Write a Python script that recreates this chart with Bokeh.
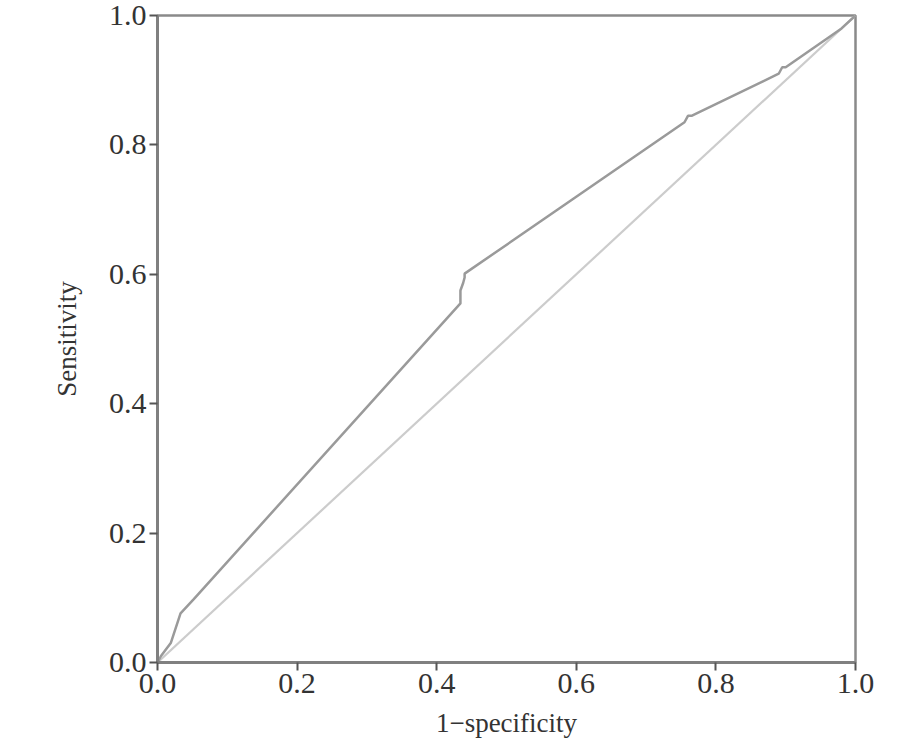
from bokeh.plotting import figure
from bokeh.models import Range1d, FixedTicker, NumeralTickFormatter
from bokeh.embed import file_html
from bokeh.resources import INLINE

# ROC curve points (1-specificity, sensitivity)
fpr = [0.0, 0.005, 0.019, 0.033, 0.052, 0.434, 0.434, 0.438, 0.440, 0.440,
       0.755, 0.760, 0.765, 0.890, 0.895, 0.900, 0.980, 1.0]
tpr = [0.0, 0.010, 0.030, 0.076, 0.098, 0.555, 0.575, 0.587, 0.595, 0.601,
       0.835, 0.845, 0.845, 0.910, 0.920, 0.920, 0.980, 1.0]
ref_x = [0.0, 1.0]
ref_y = [0.0, 1.0]
ticks = [0.0, 0.2, 0.4, 0.6, 0.8, 1.0]

FONT = "'Liberation Serif', 'Times New Roman', Times, serif"

p = figure(width=905, height=737, output_backend="svg", toolbar_location=None,
           x_range=Range1d(0, 1), y_range=Range1d(0, 1),
           min_border_left=157, min_border_top=15, min_border_right=40,
           min_border_bottom=75)
p.frame_width = 698
p.frame_height = 647

p.line(ref_x, ref_y, line_color="#cccccc", line_width=2.2)
p.line(fpr, tpr, line_color="#9a9a9a", line_width=2.5)

p.grid.visible = False
p.outline_line_color = "#8a8a8a"
p.outline_line_width = 2.5
p.background_fill_color = "white"
p.border_fill_color = "white"

for ax in (p.xaxis[0], p.yaxis[0]):
    ax.ticker = FixedTicker(ticks=ticks)
    ax.formatter = NumeralTickFormatter(format="0.0")
    ax.axis_line_color = "#808080"
    ax.axis_line_width = 3
    ax.major_tick_line_color = "#555555"
    ax.major_tick_line_width = 2
    ax.major_tick_out = 8
    ax.major_tick_in = 0
    ax.minor_tick_line_color = None
    ax.major_label_text_font = FONT
    ax.major_label_text_font_size = "30px"
    ax.major_label_text_color = "#333333"
    ax.axis_label_text_font = FONT
    ax.axis_label_text_font_size = "27px"
    ax.axis_label_text_font_style = "normal"
    ax.axis_label_text_color = "#333333"

p.xaxis.axis_label = "1\u2212specificity"
p.yaxis.axis_label = "Sensitivity"
p.xaxis.major_label_standoff = 3
p.yaxis.major_label_standoff = 3
p.xaxis.axis_label_standoff = 12
p.yaxis.axis_label_standoff = 24

open("out.html", "w").write(file_html(p, INLINE))
